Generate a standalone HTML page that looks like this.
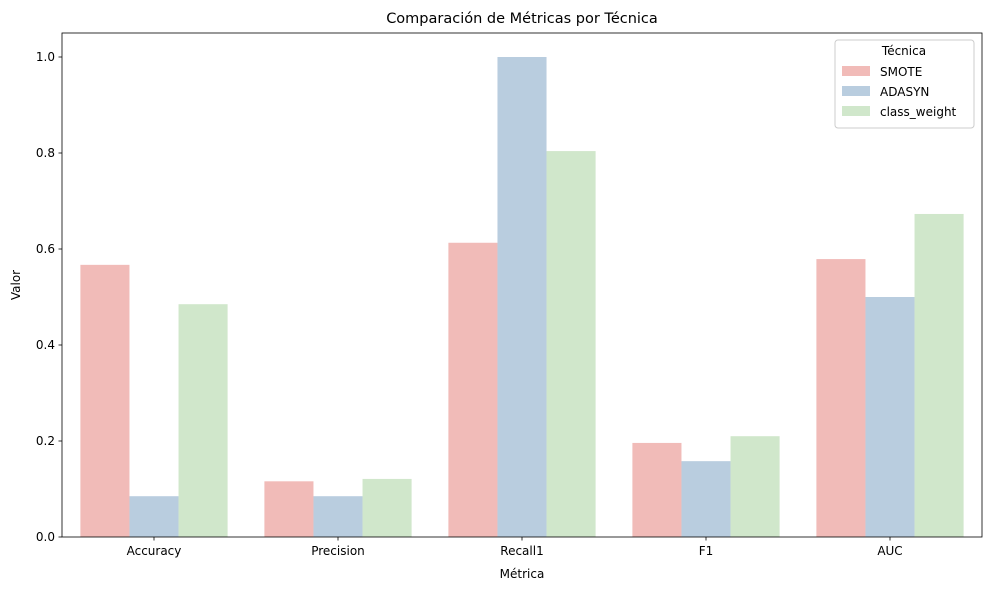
<!DOCTYPE html>
<html><head><meta charset="utf-8"><style>
body{margin:0;background:#fff;font-family:"Liberation Sans","DejaVu Sans",sans-serif;}
svg text{font-family:"DejaVu Sans","Liberation Sans",sans-serif;}
</style></head><body>
<svg id="chart" width="989" height="590" xmlns="http://www.w3.org/2000/svg"></svg>
<script>
const categories=["Accuracy","Precision","Recall1","F1","AUC"];
const seriesNames=["SMOTE","ADASYN","class_weight"];
const smote=[0.567,0.116,0.613,0.196,0.579];
const adasyn=[0.085,0.085,1.0,0.158,0.5];
const classWeight=[0.485,0.121,0.804,0.21,0.673];
const yTicks=[0,0.2,0.4,0.6,0.8,1.0];
const yTickLabels=["0.0","0.2","0.4","0.6","0.8","1.0"];
const colors=["#f1bbb8","#b9cddf","#d0e7cb"];
const series=[smote,adasyn,classWeight];
const L=62,R=982,T=33,B=537,yMax=1.05;
const ns="http://www.w3.org/2000/svg";
const svg=document.getElementById('chart');
function y(v){return B-(v/yMax)*(B-T);}
function x(i){return L+(i+0.5)*(R-L)/categories.length;}
const step=(R-L)/categories.length, bw=step*0.8/3;
function mk(tag,attrs,parent){const e=document.createElementNS(ns,tag);for(const k in attrs)e.setAttribute(k,attrs[k]);(parent||svg).appendChild(e);return e;}
series.forEach((s,si)=>{s.forEach((v,ci)=>{
 const r=mk('rect',{x:x(ci)-step*0.4+si*bw,y:y(v),width:bw,height:B-y(v),fill:colors[si]});
 
 
});});
const frame=mk('rect',{x:L,y:T,width:R-L,height:B-T,fill:'none',stroke:'#000','stroke-width':0.8});


yTicks.forEach((t,i)=>{
 mk('line',{x1:L-3.5,x2:L,y1:y(t),y2:y(t),stroke:'#000','stroke-width':0.8});
 const tx=mk('text',{x:L-7,y:y(t)+4,'text-anchor':'end','font-size':12});
 tx.textContent=yTickLabels[i];
 
 
});
categories.forEach((c,i)=>{
 mk('line',{x1:x(i),x2:x(i),y1:B,y2:B+3.5,stroke:'#000','stroke-width':0.8});
 const tx=mk('text',{x:x(i),y:B+18,'text-anchor':'middle','font-size':12});
 tx.textContent=c;
 
 
});
function label(txt,attrs,name){const t=mk('text',attrs);t.textContent=txt;return t;}
label('Comparación de Métricas por Técnica',{x:(L+R)/2,y:23,'text-anchor':'middle','font-size':14.5},'chart-title');
label('Métrica',{x:(L+R)/2,y:578,'text-anchor':'middle','font-size':12},'x-axis-title');
label('Valor',{x:20,y:(T+B)/2,'text-anchor':'middle','font-size':12,transform:'rotate(-90 20 '+(T+B)/2+')'},'y-axis-title');
const lg=mk('g',{});


mk('rect',{x:835,y:40,width:139,height:88,rx:3,fill:'#fff',stroke:'#ccc','stroke-width':1},lg);
const lt=mk('text',{x:904,y:55,'text-anchor':'middle','font-size':12},lg);lt.textContent='Técnica';
seriesNames.forEach((n,i)=>{
 const g=mk('g',{},lg);
 
 
 mk('rect',{x:842,y:66+i*20,width:28,height:10,fill:colors[i]},g);
 const t=mk('text',{x:880,y:76+i*20,'font-size':12},g);t.textContent=n;
});
</script>
</body></html>
